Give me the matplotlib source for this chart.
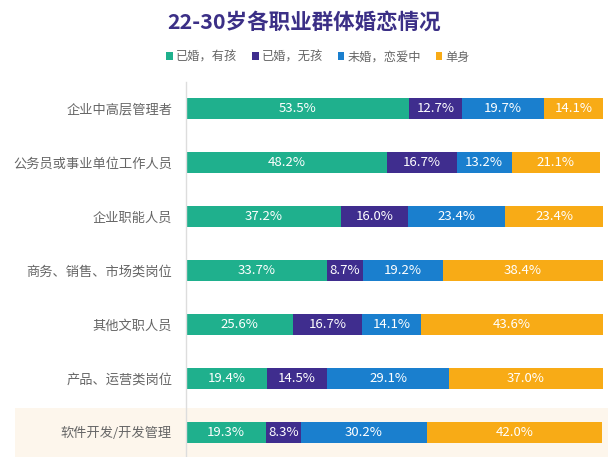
import matplotlib
matplotlib.use("Agg")
import matplotlib.pyplot as plt
from matplotlib.patches import Rectangle, Patch
import numpy as np

plt.rcParams['font.family'] = ['Noto Sans CJK SC', 'DejaVu Sans']

categories = ["企业中高层管理者", "公务员或事业单位工作人员", "企业职能人员",
              "商务、销售、市场类岗位", "其他文职人员", "产品、运营类岗位",
              "软件开发/开发管理"]
series_names = ["已婚，有孩", "已婚，无孩", "未婚，恋爱中", "单身"]
married_kids = [53.5, 48.2, 37.2, 33.7, 25.6, 19.4, 19.3]
married_nokids = [12.7, 16.7, 16.0, 8.7, 16.7, 14.5, 8.3]
dating = [19.7, 13.2, 23.4, 19.2, 14.1, 29.1, 30.2]
single = [14.1, 21.1, 23.4, 38.4, 43.6, 37.0, 42.0]
title = "22-30岁各职业群体婚恋情况"

colors = ["#1fb08d", "#3f2d8e", "#1a7fce", "#f8ab16"]
series = [married_kids, married_nokids, dating, single]

W, H = 608, 457
fig = plt.figure(figsize=(W / 100, H / 100), dpi=100)
fig.patch.set_facecolor("white")

# highlight band behind last row
fig.patches.append(Rectangle((15 / W, 0), 1 - 15 / W, (H - 408) / H,
                             transform=fig.transFigure, facecolor="#fdf6ec",
                             edgecolor="none", zorder=-5))

ax = fig.add_axes([186 / W, 0, (603 - 186) / W, 375 / H])
ax.set_zorder(2)
ax.set_facecolor("none")
y = np.arange(len(categories))
left = np.zeros(len(categories))
for vals, col in zip(series, colors):
    vals = np.array(vals)
    ax.barh(y, vals, left=left, height=0.39, color=col, edgecolor="none")
    for yi, l, v in zip(y, left, vals):
        ax.text(l + v / 2, yi, f"{v:.1f}%", ha="center", va="center",
                color="white", fontsize=9.5)
    left += vals

ax.set_xlim(0, 100)
ax.set_ylim(6.46, -0.5)
ax.set_yticks(y)
ax.set_yticklabels(categories, fontsize=9.5, color="#666666")
ax.tick_params(axis="y", length=0, pad=10)
ax.set_xticks([])
for s in ["top", "right", "bottom"]:
    ax.spines[s].set_visible(False)
ax.spines["left"].set_color("#dddddd")
ax.spines["left"].set_linewidth(1)

fig.text(0.5, 1 - 22 / H, title, ha="center", va="center", fontsize=15.5,
         fontweight="heavy", color="#3b2f86")

handles = [Patch(facecolor=c, edgecolor="none") for c in colors]
fig.legend(handles, series_names, loc="center", bbox_to_anchor=(318 / W, 1 - 57 / H),
           ncol=4, frameon=False, fontsize=8.8, labelcolor="#666666",
           handlelength=0.55, handleheight=0.55, handletextpad=0.25, columnspacing=1.2)

fig.savefig("out.png", dpi=100)
